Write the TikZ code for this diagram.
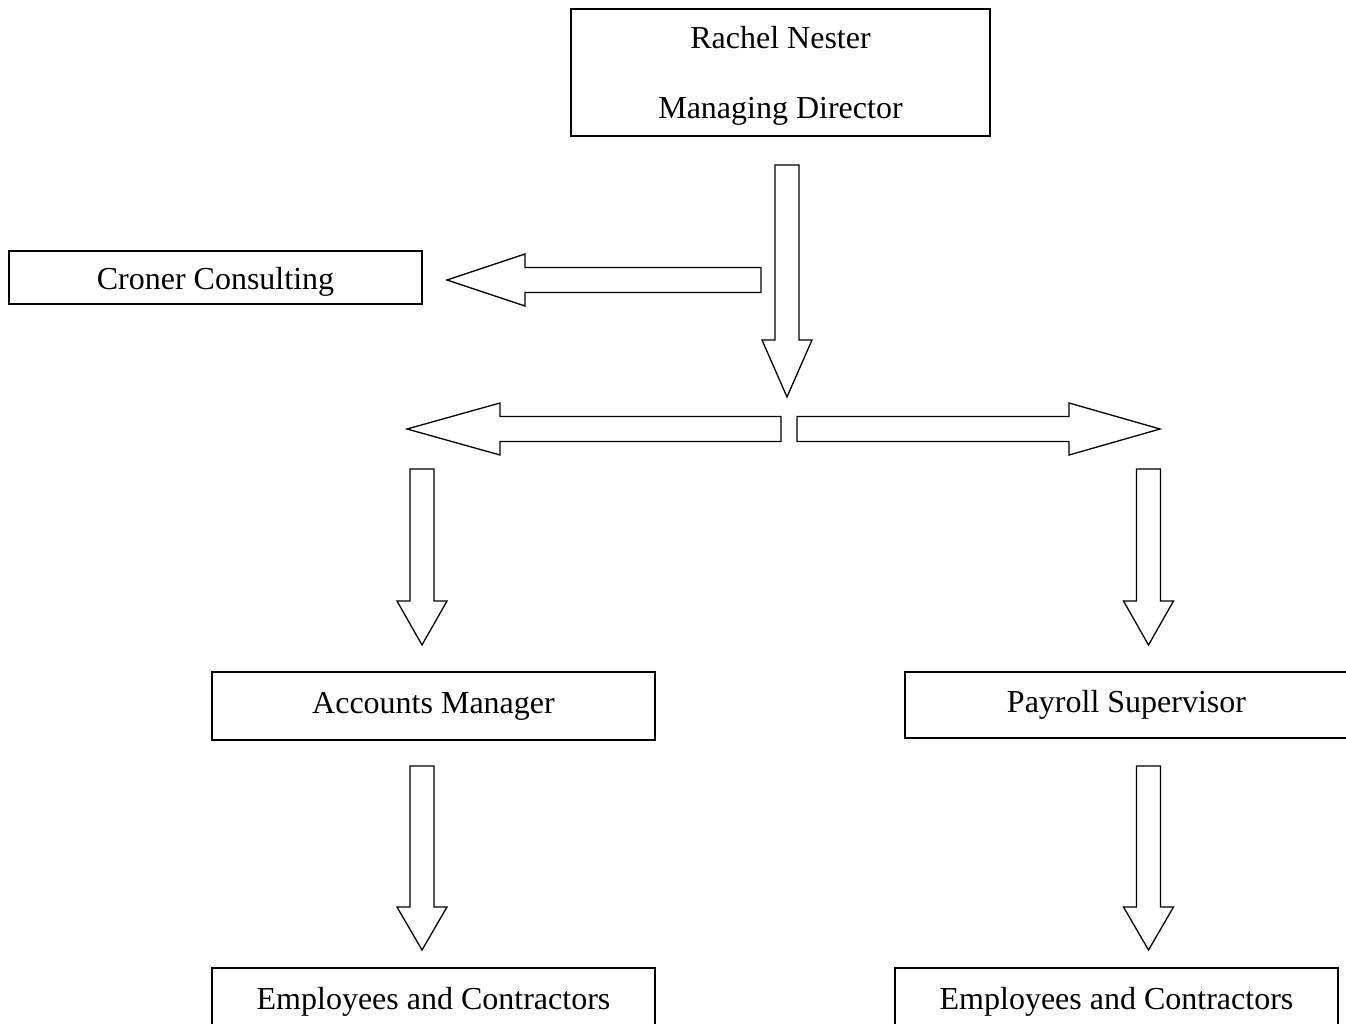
\documentclass[tikz,border=0pt]{standalone}
\usepackage{fontspec}
\setmainfont{Liberation Serif}
\newcommand\blkdown[4]{% cx, top, headbase, tip
  \draw[barrow] (#1-12,#2) -- (#1+12,#2) -- (#1+12,#3) -- (#1+25,#3) -- (#1,#4) -- (#1-25,#3) -- (#1-12,#3) -- cycle;}
\newcommand\blkleft[4]{% right end, cy, headbase, tip
  \draw[barrow] (#1,#2-12.5) -- (#1,#2+12.5) -- (#3,#2+12.5) -- (#3,#2+26) -- (#4,#2) -- (#3,#2-26) -- (#3,#2-12.5) -- cycle;}
\newcommand\blkright[4]{% left end, cy, headbase, tip
  \draw[barrow] (#1,#2-12.5) -- (#1,#2+12.5) -- (#3,#2+12.5) -- (#3,#2+26) -- (#4,#2) -- (#3,#2-26) -- (#3,#2-12.5) -- cycle;}
\begin{document}
\begin{tikzpicture}[x=1pt,y=-1pt,
  box/.style={draw, line width=1.5pt, inner sep=0pt, font=\fontsize{32}{38}\selectfont},
  barrow/.style={draw, line width=1.3pt, line join=miter}]
\useasboundingbox (0,0) rectangle (1346,1024);
\clip (0,0) rectangle (1346,1024);
\node[box, minimum width=419pt, minimum height=127pt] (md) at (780.5,72.5) {};
\node[inner sep=0pt, align=center, font=\fontsize{32}{70}\selectfont] (mdtext) at ([yshift=-3pt]md.center) {Rachel Nester\\Managing Director};
\node[box, minimum width=413pt, minimum height=53pt, text height=31.9pt] (cc) at (215.5,277.5) {Croner Consulting};
\node[box, minimum width=443pt, minimum height=68pt] (am) at (433.5,706) {Accounts Manager};
\node[box, minimum width=443pt, minimum height=66pt] (ps) at (1126.5,705) {Payroll Supervisor};
\node[box, minimum width=443pt, minimum height=68pt] (el) at (433.5,1002) {Employees and Contractors};
\node[box, minimum width=443pt, minimum height=68pt] (er) at (1116.5,1002) {Employees and Contractors};
\blkdown{787}{165}{340}{397}
\blkleft{761}{280}{525}{447}
\blkleft{781}{429}{500}{407}
\blkright{797}{429}{1069}{1160}
\blkdown{422}{469}{601}{645}
\blkdown{1148.5}{469}{601}{645}
\blkdown{422}{766}{907}{950}
\blkdown{1148.5}{766}{907}{950}
\end{tikzpicture}
\end{document}
